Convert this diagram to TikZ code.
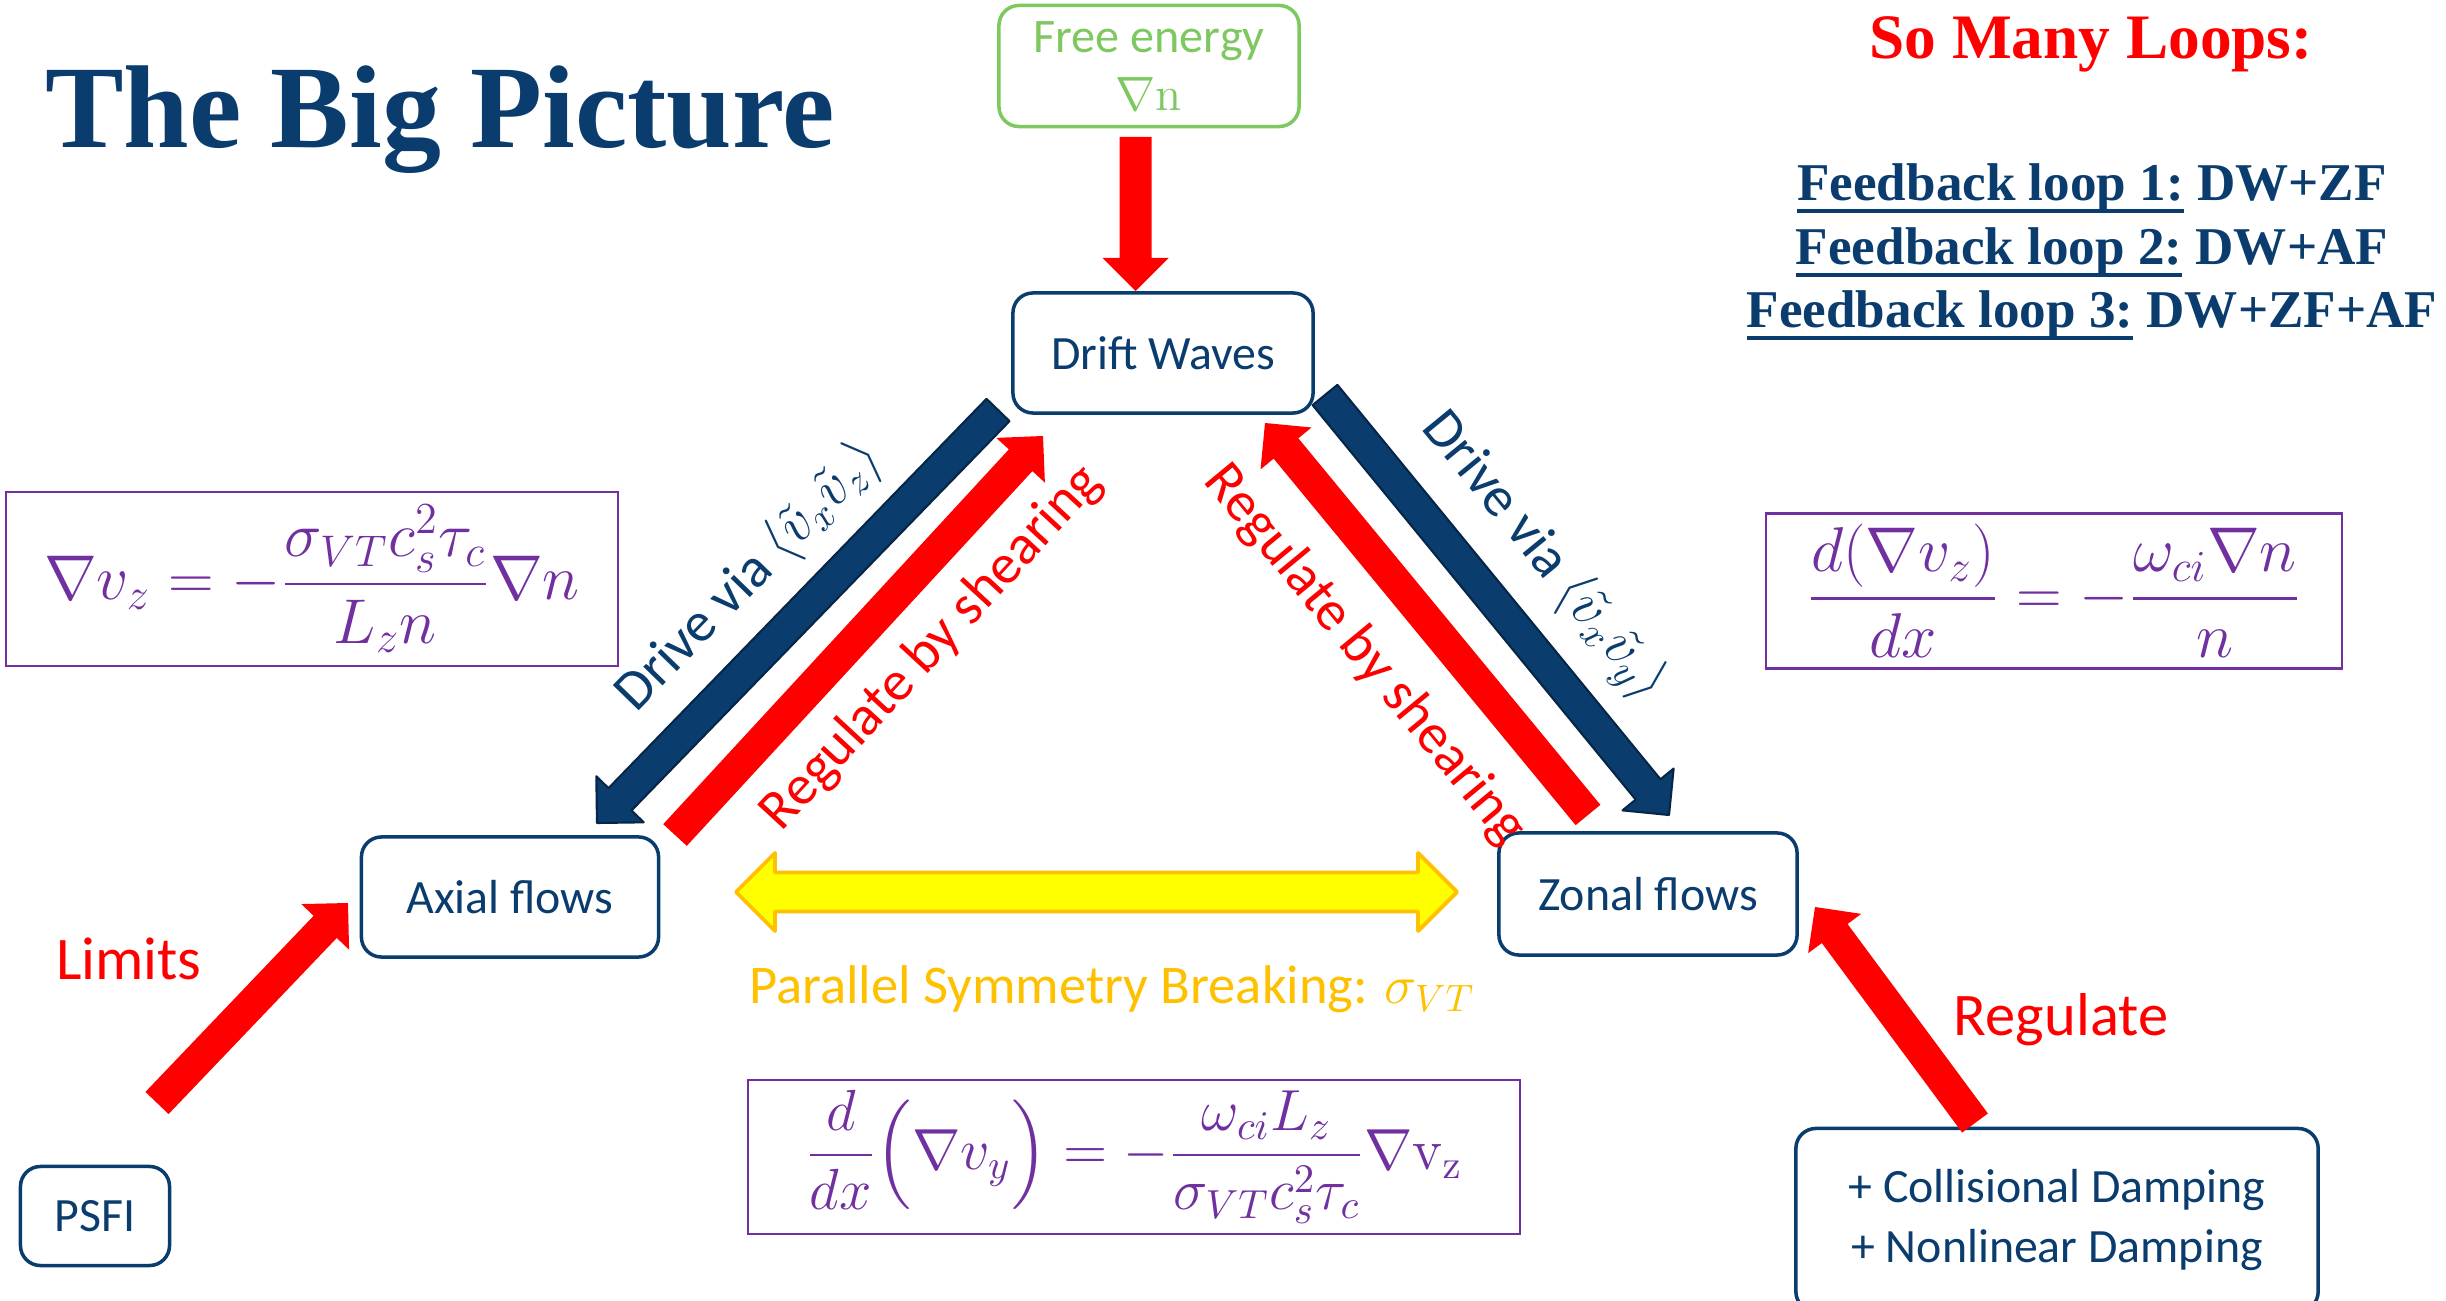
\RequirePackage{fix-cm}
\documentclass[tikz,border=0pt]{standalone}
\usepackage{amsmath}
\usepackage[no-math]{fontspec}
\setmainfont{Carlito}
\newfontfamily\timesfont{Liberation Serif}
\usepackage{tikz}
\usetikzlibrary{calc}
\definecolor{navy}{RGB}{11,60,110}
\definecolor{navyline}{RGB}{6,38,72}
\definecolor{energygreen}{RGB}{125,200,95}
\definecolor{eqpurple}{RGB}{112,48,160}
\definecolor{gold}{RGB}{255,192,0}
\definecolor{brightyellow}{RGB}{255,255,0}
\definecolor{brightred}{RGB}{255,0,0}
% fat block arrow from tail #2 to tip #3
\newcommand{\fatarrow}[3][]{%
  \coordinate (fa-back) at ($(#3)!0.33cm!(#2)$);
  \draw[#1] ($(#2)!0.16cm!90:(#3)$) -- ($(fa-back)!0.16cm!90:(#3)$)
    -- ($(fa-back)!0.33cm!90:(#3)$) -- (#3) -- ($(fa-back)!0.33cm!-90:(#3)$)
    -- ($(fa-back)!0.16cm!-90:(#3)$) -- ($(#2)!0.16cm!-90:(#3)$) -- cycle;}
% underlined part of a loop line
\newcommand{\fbul}[1]{\sbox0{#1}\rlap{\rule[-3.3pt]{\wd0}{1.1pt}}\usebox0}

\begin{document}
\begin{tikzpicture}[
  x=0.01cm, y=-0.01cm,
  flowbox/.style={rectangle, draw=navy, line width=1pt, rounded corners=0.2cm,
    text=navy, font=\fontsize{13.6}{16.8}\selectfont, align=center, inner sep=2pt},
  energybox/.style={flowbox, draw=energygreen, text=energygreen},
  eqbox/.style={rectangle, draw=eqpurple, line width=0.6pt, text=eqpurple,
    font=\fontsize{18}{22}\selectfont, inner sep=2pt},
  redarr/.style={fill=brightred, draw=none},
  navyarr/.style={fill=navy, draw=navyline, line width=0.6pt, line join=round},
  symarr/.style={fill=brightyellow, draw=gold, line width=1.1pt, line join=round},
  dlab/.style={font=\fontsize{16}{19}\selectfont, inner sep=1pt},
  blab/.style={font=\fontsize{17.2}{20}\selectfont, text=brightred, anchor=base, inner sep=0pt},
  fbtxt/.style={font=\timesfont\bfseries\fontsize{15.1}{18}\selectfont, text=navy, anchor=base, inner sep=0pt}
]
  \useasboundingbox (0,0) rectangle (2446,1301);
  % ---------------- headings ----------------
  \node[anchor=base, inner sep=0pt, text=navy,
        font=\timesfont\bfseries\fontsize{33.5}{40}\selectfont] (title) at (440,148) {The Big Picture};
  \node[anchor=base, inner sep=0pt, text=brightred,
        font=\timesfont\bfseries\fontsize{18}{22}\selectfont] (loops) at (2091,59) {So Many Loops:};
  \node[fbtxt] (fb1) at (2092,201) {\fbul{Feedback loop 1:} DW+ZF};
  \node[fbtxt] (fb2) at (2092,265) {\fbul{Feedback loop 2:} DW+AF};
  \node[fbtxt] (fb3) at (2092,328) {\fbul{Feedback loop 3:} DW+ZF+AF};
  % ---------------- boxes ----------------
  \node[energybox, minimum width=3.0cm, minimum height=1.21cm, font=\fontsize{13.7}{16.5}\selectfont]
    (fe) at (1149,66) {Free energy\\$\nabla\mathrm{n}$};
  \node[flowbox, minimum width=3.0cm, minimum height=1.2cm] (dw) at (1163,353) {Drift Waves};
  \node[flowbox, minimum width=2.97cm, minimum height=1.2cm] (af) at (510,897) {Axial flows};
  \node[flowbox, minimum width=2.98cm, minimum height=1.22cm] (zf) at (1648,894) {Zonal flows};
  \node[flowbox, minimum width=1.49cm, minimum height=0.99cm] (psfi) at (95,1216) {PSFI};
  \node[flowbox, minimum width=5.22cm, minimum height=1.83cm] (damp) at (2057,1220)
    {+ Collisional Damping\\+ Nonlinear Damping};
  % equations
  \node[eqbox, minimum width=6.12cm, minimum height=1.74cm] (eql) at (312,579)
    {$\displaystyle \nabla v_z=-\frac{\sigma_{VT}c_s^2\tau_c}{L_z n}\nabla n$};
  \node[eqbox, minimum width=5.76cm, minimum height=1.55cm] (eqr) at (2054,591)
    {$\displaystyle \frac{d(\nabla v_z)}{dx}=-\frac{\omega_{ci}\nabla n}{n}$};
  \node[eqbox, minimum width=7.72cm, minimum height=1.54cm, font=\fontsize{16.5}{20}\selectfont] (eqb) at (1134,1157)
    {$\displaystyle \frac{d}{dx}\Bigl(\nabla v_y\Bigr)=-\frac{\omega_{ci}L_z}{\sigma_{VT}c_s^2\tau_c}\nabla\mathrm{v}_{\mathrm{z}}$};
  % ---------------- arrow ends ----------------
  \coordinate (fe-out) at (1135.5,137);
  \coordinate (dw-in) at (1135.5,291);
  \coordinate (dw-l) at (998,410);
  \coordinate (af-in) at (597,823);
  \coordinate (af-out) at (675,835);
  \coordinate (dw-li) at (1043,436);
  \coordinate (dw-r) at (1325,395);
  \coordinate (zf-in) at (1669,815);
  \coordinate (zf-out) at (1588,815);
  \coordinate (dw-ri) at (1265,423);
  \coordinate (psfi-out) at (157,1103);
  \coordinate (af-lin) at (348,903);
  \coordinate (damp-out) at (1975,1123);
  \coordinate (zf-rin) at (1815,907);
  \coordinate (sym-l) at (736,892);
  \coordinate (sym-r) at (1457,892);
  % ---------------- arrows ----------------
  \fatarrow[redarr]{fe-out}{dw-in}
  \fatarrow[navyarr]{dw-l}{af-in}
  \fatarrow[redarr]{af-out}{dw-li}
  \fatarrow[navyarr]{dw-r}{zf-in}
  \fatarrow[redarr]{zf-out}{dw-ri}
  \fatarrow[redarr]{psfi-out}{af-lin}
  \fatarrow[redarr]{damp-out}{zf-rin}
  \draw[symarr] (sym-l) -- ++(39,-39) -- ++(0,19.5) -- ($(sym-r)+(-39,-19.5)$) -- ++(0,-19.5)
    -- (sym-r) -- ++(-39,39) -- ++(0,-19.5) -- ($(sym-l)+(39,19.5)$) -- ++(0,19.5) -- cycle;
  % ---------------- arrow labels ----------------
  \node[dlab, text=navy, rotate=45.8] (drvl) at (750,577) {Drive via $\langle\tilde{v}_x\tilde{v}_z\rangle$};
  \node[dlab, text=brightred, rotate=47.3] (regl) at (932,648) {Regulate by shearing};
  \node[dlab, text=navy, rotate=-50.7] (drvr) at (1543,557) {Drive via $\langle\tilde{v}_x\tilde{v}_y\rangle$};
  \node[dlab, text=brightred, rotate=-50.5] (regr) at (1365,655) {Regulate by shearing};
  \node[blab] (limits) at (129,979) {Limits};
  \node[blab] (regulate) at (2061,1035) {Regulate};
  \node[anchor=base, inner sep=0pt, text=gold, font=\fontsize{15.5}{19}\selectfont]
    (psb) at (1112,1003) {Parallel Symmetry Breaking: $\sigma_{VT}$};
\end{tikzpicture}
\end{document}
